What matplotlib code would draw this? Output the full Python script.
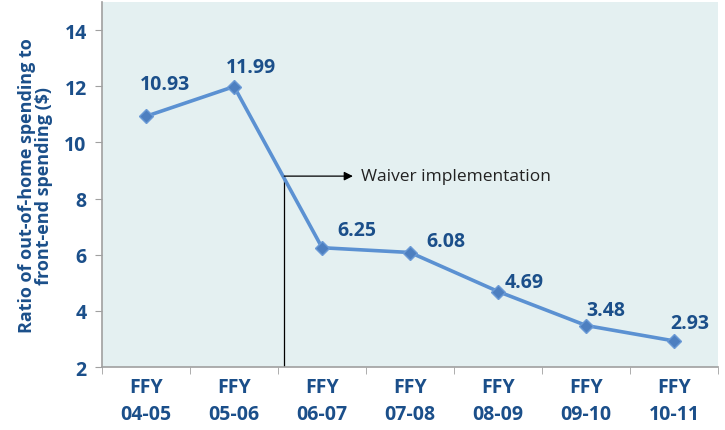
import matplotlib
matplotlib.use("Agg")
import matplotlib.pyplot as plt
import numpy as np

years = ["FFY\n04-05", "FFY\n05-06", "FFY\n06-07", "FFY\n07-08",
         "FFY\n08-09", "FFY\n09-10", "FFY\n10-11"]
ratio = [10.93, 11.99, 6.25, 6.08, 4.69, 3.48, 2.93]
# label offsets in points (dx, dy) from each point
label_offsets = [(14, 23), (12, 14), (25, 13), (26, 8), (19, 7), (14, 11), (11, 13)]

label_blue = "#1b4f8a"
line_blue = "#5b91d2"

plt.rcParams["font.family"] = ["Open Sans", "DejaVu Sans"]

fig = plt.figure(figsize=(7.25, 4.31), dpi=100)
ax = fig.add_axes([0.1407, 0.146, 0.850, 0.847])
ax.set_facecolor("#e4f0f1")

x = np.arange(len(ratio))
ax.plot(x, ratio, color=line_blue, lw=2.6, marker="D", ms=7.5,
        markerfacecolor="#4d7fc0", markeredgecolor="#6a9ad6", zorder=3)

for xi, yi, (dx, dy) in zip(x, ratio, label_offsets):
    ax.annotate(f"{yi:.2f}", (xi, yi), xytext=(dx, dy), textcoords="offset points",
                ha="center", va="center", fontsize=14, fontweight="bold",
                color=label_blue)

# waiver implementation marker
wx, wy = 1.57, 8.8
ax.plot([wx, wx], [2, wy], color="black", lw=0.9, zorder=2)
ax.annotate("", xy=(wx + 0.78, wy), xytext=(wx, wy),
            arrowprops=dict(arrowstyle="-|>", color="black", lw=0.9,
                            mutation_scale=13, shrinkA=0, shrinkB=0))
ax.text(wx + 0.87, wy, "Waiver implementation", fontsize=12.5, va="center",
        ha="left", color="#222222")

ax.set_xlim(-0.5, len(ratio) - 0.5)
ax.set_ylim(2, 15)
ax.set_yticks([2, 4, 6, 8, 10, 12, 14])
ax.set_xticks(x)
ax.set_xticklabels(years)
ax.set_xticks(np.arange(len(ratio) + 1) - 0.5, minor=True)
ax.tick_params(axis="x", which="major", length=0, pad=7, labelsize=14,
               labelcolor=label_blue)
ax.tick_params(axis="x", which="minor", length=5, color="#a0a0a0", direction="out")
ax.tick_params(axis="y", length=5, color="#a0a0a0", labelsize=14,
               labelcolor=label_blue, pad=6)
for lab in ax.get_xticklabels() + ax.get_yticklabels():
    lab.set_fontweight("bold")
plt.setp(ax.get_xticklabels(), linespacing=1.45)

for s in ["top", "right"]:
    ax.spines[s].set_visible(False)
for s in ["left", "bottom"]:
    ax.spines[s].set_color("#a0a0a0")
    ax.spines[s].set_linewidth(1.2)

ax.set_ylabel("Ratio of out-of-home spending to\nfront-end spending ($)",
              fontsize=13, fontweight="bold", color=label_blue, labelpad=8,
              linespacing=0.95)

fig.savefig("out.png", dpi=100)
